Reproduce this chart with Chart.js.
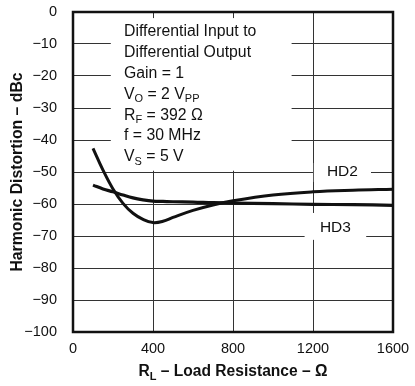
<!DOCTYPE html>
<html lang="en">
<head>
    <meta charset="UTF-8">
    <title>Harmonic Distortion vs Load Resistance</title>
    <style>
        html, body { margin: 0; padding: 0; background: #fff; }
        .chart-box { width: 415px; height: 386px; position: relative; }
    </style>
</head>
<body>
    <div class="chart-box">
        <canvas id="hdChart"></canvas>
    </div>
    <script src="https://cdn.jsdelivr.net/npm/chart.js"></script>
    <script>
        // load resistance (ohm)
        const loadRes = [100, 150, 200, 250, 300, 350, 400, 450, 500, 600, 700, 800, 1000, 1200, 1400, 1600];
        // harmonic distortion (dBc)
        const hd2 = [-42.6, -49.4, -55.3, -59.8, -62.9, -64.8, -65.8, -65.4, -64.2, -62.0, -60.3, -59.0, -57.2, -56.2, -55.7, -55.4];
        const hd3 = [-54.1, -55.3, -56.2, -57.2, -58.1, -58.7, -59.1, -59.2, -59.3, -59.4, -59.6, -59.7, -59.9, -60.1, -60.2, -60.4];
        const xTicks = [0, 400, 800, 1200, 1600];

        // conditions box text, [text, subscript]
        const noteLines = [
            [['Differential Input to', false]],
            [['Differential Output', false]],
            [['Gain = 1', false]],
            [['V', false], ['O', true], [' = 2 V', false], ['PP', true]],
            [['R', false], ['F', true], [' = 392 \u03A9', false]],
            [['f = 30 MHz', false]],
            [['V', false], ['S', true], [' = 5 V', false]]
        ];

        const FONT = '"Liberation Sans", Arial, sans-serif';

        function drawRich(ctx, parts, x, y, size, bold) {
            let cx = x;
            const w = bold ? 'bold ' : '';
            parts.forEach(([txt, sub]) => {
                if (sub) {
                    ctx.font = w + Math.round(size * 0.72) + 'px ' + FONT;
                    ctx.fillText(txt, cx, y + size * 0.3);
                } else {
                    ctx.font = w + size + 'px ' + FONT;
                    ctx.fillText(txt, cx, y);
                }
                cx += ctx.measureText(txt).width;
            });
            return cx - x;
        }

        function richWidth(ctx, parts, size, bold) {
            let total = 0;
            const w = bold ? 'bold ' : '';
            parts.forEach(([txt, sub]) => {
                ctx.font = w + (sub ? Math.round(size * 0.72) : size) + 'px ' + FONT;
                total += ctx.measureText(txt).width;
            });
            return total;
        }

        // white boxes that break the grid, then labels
        const overlayPlugin = {
            id: 'overlay',
            beforeDatasetsDraw(chart) {
                const ctx = chart.ctx;
                const x = chart.scales.x, y = chart.scales.y;
                const rect = (x0, x1, y0, y1) => {
                    const l = x.getPixelForValue(x0), r = x.getPixelForValue(x1);
                    const t = y.getPixelForValue(y0), b = y.getPixelForValue(y1);
                    ctx.fillRect(l, t, r - l, b - t);
                };
                ctx.save();
                ctx.fillStyle = '#fff';
                rect(189, 1093, -1.9, -49.6);
                rect(1204, 1490, -47.2, -53.1);
                rect(1158, 1466, -62.8, -71.2);

                ctx.fillStyle = '#111';
                ctx.textBaseline = 'middle';
                ctx.textAlign = 'left';
                noteLines.forEach((parts, i) => {
                    drawRich(ctx, parts, 124, 32 + i * 20.8, 15.8, false);
                });
                ctx.textAlign = 'center';
                ctx.font = '15.5px ' + FONT;
                ctx.fillText('HD2', x.getPixelForValue(1347), y.getPixelForValue(-50));
                ctx.fillText('HD3', x.getPixelForValue(1312), y.getPixelForValue(-67.5));
                ctx.restore();
            },
            afterDatasetsDraw(chart) {
                const ctx = chart.ctx;
                const a = chart.chartArea;
                ctx.save();
                ctx.strokeStyle = '#111';
                ctx.lineWidth = 2.5;
                ctx.strokeRect(a.left, a.top, a.right - a.left, a.bottom - a.top);

                // x axis title with subscript
                const parts = [['R', false], ['L', true], [' \u2013 Load Resistance \u2013 \u03A9', false]];
                ctx.fillStyle = '#111';
                ctx.textAlign = 'left';
                ctx.textBaseline = 'middle';
                const w = richWidth(ctx, parts, 15.6, true);
                drawRich(ctx, parts, (a.left + a.right) / 2 - w / 2, 372, 15.6, true);
                ctx.restore();
            }
        };

        const ctx = document.getElementById('hdChart');
        new Chart(ctx, {
            type: 'line',
            data: {
                datasets: [{
                    label: 'HD2',
                    data: loadRes.map((r, i) => ({ x: r, y: hd2[i] })),
                    borderColor: '#111',
                    borderWidth: 3,
                    pointRadius: 0,
                    tension: 0.4
                }, {
                    label: 'HD3',
                    data: loadRes.map((r, i) => ({ x: r, y: hd3[i] })),
                    borderColor: '#111',
                    borderWidth: 3.2,
                    pointRadius: 0,
                    tension: 0.4
                }]
            },
            options: {
                responsive: true,
                maintainAspectRatio: false,
                animation: false,
                layout: {
                    padding: { top: 12, right: 22, left: 0, bottom: 0 }
                },
                plugins: {
                    legend: { display: false },
                    tooltip: { enabled: false }
                },
                scales: {
                    x: {
                        type: 'linear',
                        min: 0,
                        max: 1600,
                        afterFit: s => { s.height = 54; s.paddingLeft = 0; s.paddingRight = 0; },
                        afterBuildTicks: s => { s.ticks = xTicks.map(v => ({ value: v })); },
                        grid: { color: '#333', lineWidth: 1, drawTicks: false },
                        border: { display: false },
                        ticks: {
                            autoSkip: false,
                            maxRotation: 0,
                            padding: 8,
                            color: '#111',
                            font: { family: FONT, size: 14.5 },
                            callback: v => String(v)
                        }
                    },
                    y: {
                        min: -100,
                        max: 0,
                        afterFit: s => { s.width = 73; s.paddingTop = 0; s.paddingBottom = 0; },
                        grid: { color: '#333', lineWidth: 1, drawTicks: false },
                        border: { display: false },
                        ticks: {
                            stepSize: 10,
                            padding: 16,
                            color: '#111',
                            font: { family: FONT, size: 14.5 },
                            callback: v => String(v).replace('-', '\u2212')
                        },
                        title: {
                            display: true,
                            text: 'Harmonic Distortion \u2013 dBc',
                            color: '#111',
                            padding: { top: 8, bottom: 0 },
                            font: { family: FONT, size: 15.8, weight: 'bold' }
                        }
                    }
                }
            },
            plugins: [overlayPlugin]
        });
    </script>
</body>
</html>
